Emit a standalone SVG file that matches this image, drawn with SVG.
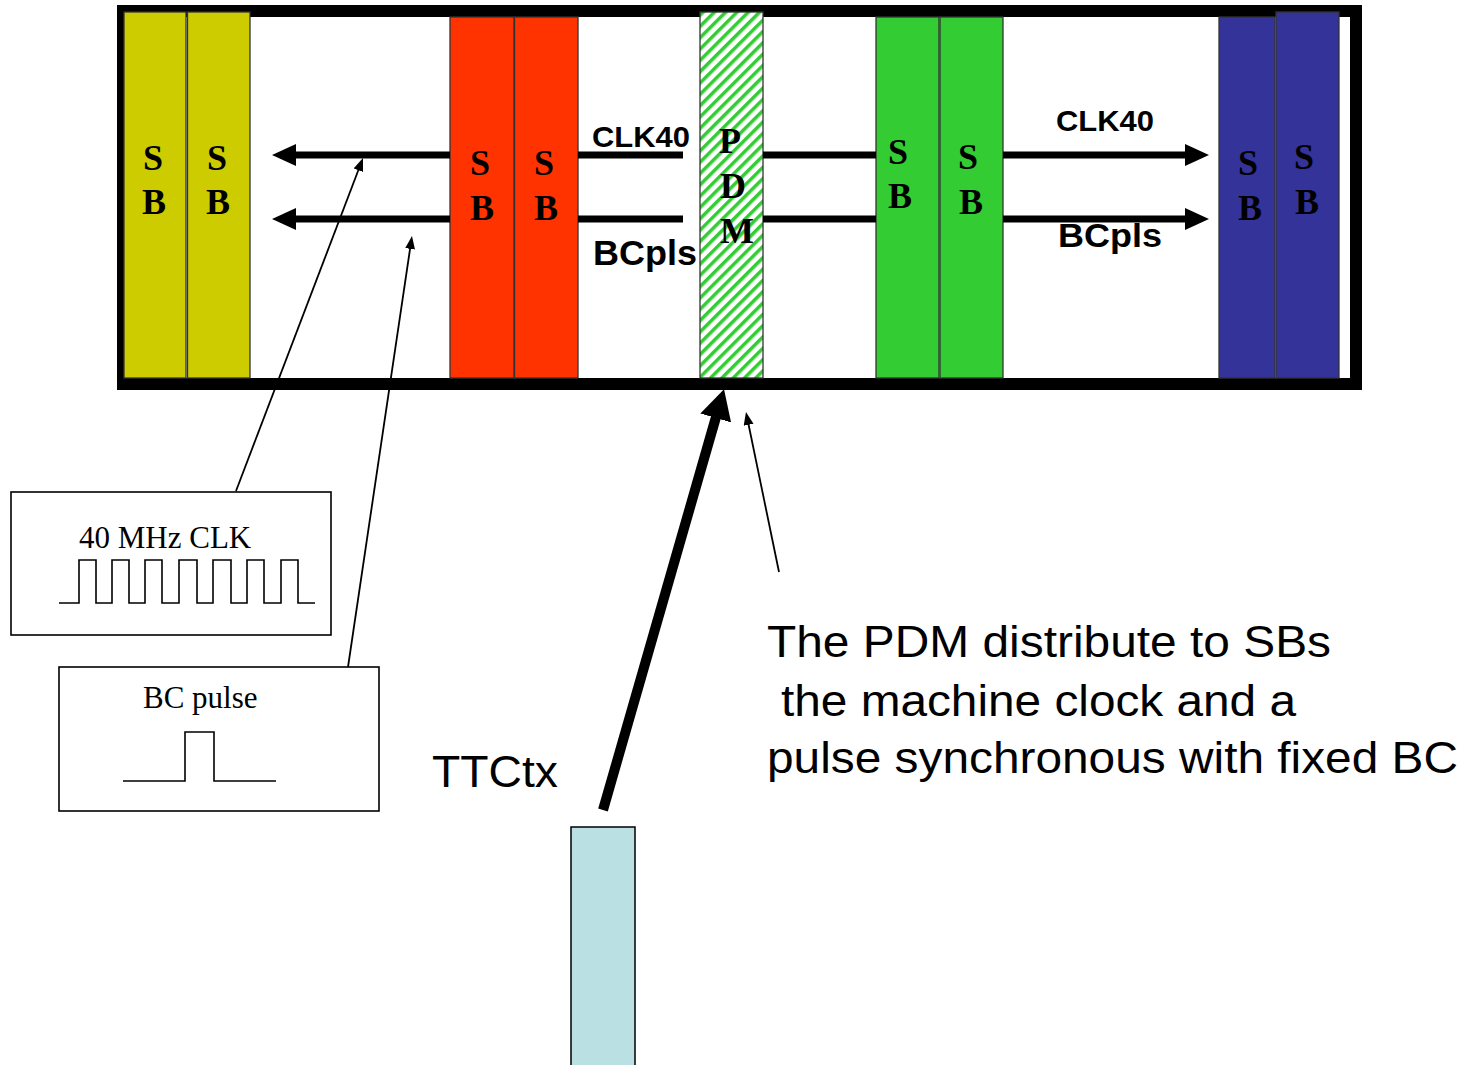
<svg xmlns="http://www.w3.org/2000/svg" width="1462" height="1065" viewBox="0 0 1462 1065">
<style>
.board{stroke:#333;stroke-width:1.3}
.sb{font-family:"Liberation Serif","Times New Roman",serif;font-weight:bold;font-size:36px;fill:#000;text-anchor:middle}
.lbl{font-family:"Liberation Sans",Arial,sans-serif;font-weight:bold;fill:#000}
.sig{fill:none;stroke:#000;stroke-width:7}
.thin{fill:none;stroke:#000;stroke-width:1.8}
.box{fill:#fff;stroke:#000;stroke-width:1.6}
.wave{fill:none;stroke:#000;stroke-width:1.6}
.cap{font-family:"Liberation Serif","Times New Roman",serif;font-size:31px;fill:#000}
.big{font-family:"Liberation Sans",Arial,sans-serif;font-size:45px;fill:#000}
</style>
<defs>
<pattern id="hatch" width="8" height="8" patternUnits="userSpaceOnUse" patternTransform="rotate(45)">
<rect width="8" height="8" fill="#fff"/>
<rect width="3.5" height="8" fill="#33CC33"/>
</pattern>
<marker id="head" markerUnits="userSpaceOnUse" markerWidth="26" markerHeight="24" refX="2" refY="11" orient="auto">
<path d="M0,0 L24,11 L0,22 z" fill="#000"/>
</marker>
<marker id="thinhead" markerUnits="userSpaceOnUse" markerWidth="14" markerHeight="12" refX="1" refY="5" orient="auto">
<path d="M0,0 L13,5 L0,10 z" fill="#000"/>
</marker>
<marker id="bighead" markerUnits="userSpaceOnUse" markerWidth="32" markerHeight="34" refX="1" refY="16" orient="auto">
<path d="M0,0 L30,16 L0,32 z" fill="#000"/>
</marker>
</defs>
<rect width="1462" height="1065" fill="#fff"/>

<g id="crate">
<rect x="123" y="11" width="1233" height="373" fill="#fff" stroke="#000" stroke-width="12"/>
</g>

<g id="sb-yellow-1">
<rect class="board" x="124" y="12" width="62" height="366" fill="#CCCC00"/>
<text class="sb" x="153" y="170">S</text><text class="sb" x="154" y="214">B</text>
</g>
<g id="sb-yellow-2">
<rect class="board" x="187.5" y="12" width="62.5" height="366" fill="#CCCC00"/>
<text class="sb" x="217" y="170">S</text><text class="sb" x="218" y="214">B</text>
</g>
<g id="sb-red-1">
<rect class="board" x="450" y="17" width="64" height="361" fill="#FF3300"/>
<text class="sb" x="480" y="175">S</text><text class="sb" x="482" y="220">B</text>
</g>
<g id="sb-red-2">
<rect class="board" x="514.5" y="17" width="63.5" height="361" fill="#FF3300"/>
<text class="sb" x="544" y="175">S</text><text class="sb" x="546" y="220">B</text>
</g>
<g id="pdm">
<rect class="board" x="700" y="12" width="63" height="366" fill="url(#hatch)"/>
<text class="sb" x="730" y="153">P</text><text class="sb" x="733" y="198">D</text><text class="sb" x="737" y="243">M</text>
</g>
<g id="sb-green-1">
<rect class="board" x="876" y="17" width="63" height="361" fill="#33CC33"/>
<text class="sb" x="898" y="164">S</text><text class="sb" x="900" y="208">B</text>
</g>
<g id="sb-green-2">
<rect class="board" x="940" y="17" width="63" height="361" fill="#33CC33"/>
<text class="sb" x="968" y="169">S</text><text class="sb" x="971" y="214">B</text>
</g>
<g id="sb-blue-1">
<rect class="board" x="1219" y="17" width="56" height="361" fill="#333399"/>
<text class="sb" x="1248" y="175">S</text><text class="sb" x="1250" y="220">B</text>
</g>
<g id="sb-blue-2">
<rect class="board" x="1276" y="12" width="63" height="366" fill="#333399"/>
<text class="sb" x="1304" y="169">S</text><text class="sb" x="1307" y="214">B</text>
</g>

<g id="labels">
<text class="lbl" x="592" y="147" font-size="30" textLength="98" lengthAdjust="spacingAndGlyphs">CLK40</text>
<text class="lbl" x="593" y="265" font-size="35" textLength="104" lengthAdjust="spacingAndGlyphs">BCpls</text>
<text class="lbl" x="1056" y="131" font-size="30" textLength="98" lengthAdjust="spacingAndGlyphs">CLK40</text>
<text class="lbl" x="1058" y="247" font-size="34" textLength="104" lengthAdjust="spacingAndGlyphs">BCpls</text>
</g>

<g id="connectors">
<line class="sig" x1="450" y1="155" x2="294" y2="155" marker-end="url(#head)"/>
<line class="sig" x1="450" y1="219" x2="294" y2="219" marker-end="url(#head)"/>
<line class="sig" x1="578" y1="155" x2="683" y2="155"/>
<line class="sig" x1="578" y1="219" x2="683" y2="219"/>
<line class="sig" x1="763" y1="155" x2="876" y2="155"/>
<line class="sig" x1="763" y1="219" x2="876" y2="219"/>
<line class="sig" x1="1003" y1="155" x2="1187" y2="155" marker-end="url(#head)"/>
<line class="sig" x1="1003" y1="219" x2="1187" y2="219" marker-end="url(#head)"/>
<line class="thin" x1="236" y1="491" x2="358.7" y2="169.3" marker-end="url(#thinhead)"/>
<line class="thin" x1="348" y1="667" x2="410.2" y2="247.9" marker-end="url(#thinhead)"/>
<line class="thin" x1="779" y1="572" x2="748.4" y2="423.8" marker-end="url(#thinhead)"/>
<line x1="603" y1="810" x2="716" y2="417" stroke="#000" stroke-width="10" marker-end="url(#bighead)"/>
</g>

<g id="clk-box">
<rect class="box" x="11" y="492" width="320" height="143"/>
<text class="cap" x="79" y="548">40 MHz CLK</text>
<path class="wave" d="M59,603 H79 V560 H96 V603 H112 V560 H129 V603 H145 V560 H162 V603 H179 V560 H197 V603 H213 V560 H231 V603 H247 V560 H264 V603 H281 V560 H298 V603 H315"/>
</g>
<g id="bc-box">
<rect class="box" x="59" y="667" width="320" height="144"/>
<text class="cap" x="143" y="708">BC pulse</text>
<path class="wave" d="M123,781 H185 V732 H214 V781 H276"/>
</g>

<g id="ttctx">
<rect x="571" y="827" width="64" height="250" fill="#BBE0E3" stroke="#000" stroke-width="1.5"/>
<text class="big" x="432" y="787" font-size="44" textLength="126" lengthAdjust="spacingAndGlyphs">TTCtx</text>
</g>

<g id="note">
<text class="big" x="767" y="657" textLength="564" lengthAdjust="spacingAndGlyphs">The PDM distribute to SBs</text>
<text class="big" x="781" y="716" textLength="515" lengthAdjust="spacingAndGlyphs">the machine clock and a</text>
<text class="big" x="767" y="773" textLength="691" lengthAdjust="spacingAndGlyphs">pulse synchronous with fixed BC</text>
</g>
</svg>
